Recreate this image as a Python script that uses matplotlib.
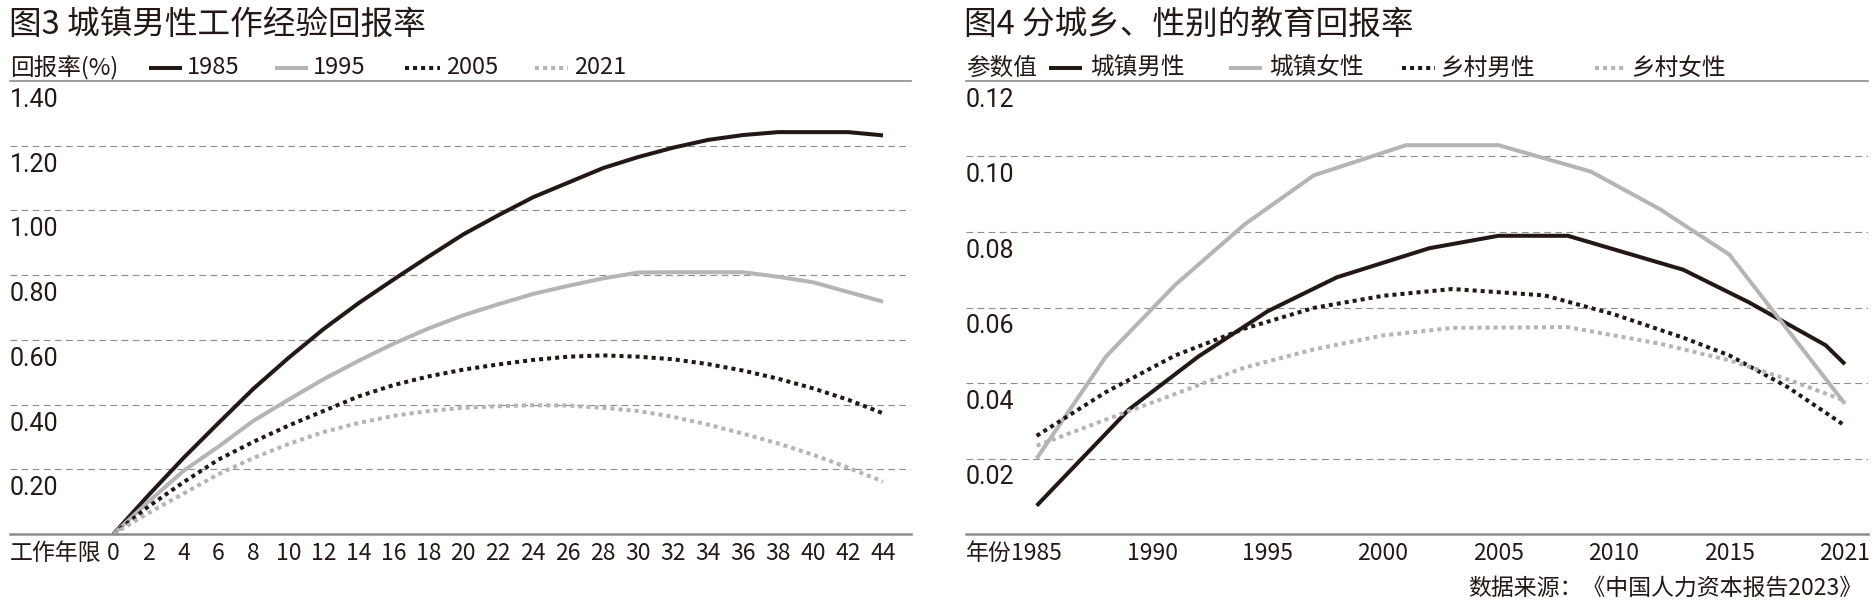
import numpy as np
import matplotlib
matplotlib.use("Agg")
import matplotlib.pyplot as plt
from matplotlib.lines import Line2D
from matplotlib.transforms import ScaledTranslation

plt.rcParams['font.family'] = ['Noto Sans CJK SC', 'DejaVu Sans']

# ---- 图3 data: return to work experience, urban men ----
exp_years = list(range(0, 45, 2))
ret_1985 = [0, 0.12, 0.235, 0.343, 0.449, 0.544, 0.633, 0.713, 0.786, 0.857, 0.926,
            0.985, 1.041, 1.086, 1.131, 1.165, 1.194, 1.218, 1.233, 1.242, 1.242, 1.242, 1.232]
ret_1995 = [0, 0.10, 0.195, 0.27, 0.35, 0.415, 0.478, 0.535, 0.588, 0.635, 0.676,
            0.71, 0.742, 0.767, 0.79, 0.808, 0.809, 0.809, 0.809, 0.795, 0.778, 0.748, 0.718]
ret_2005 = [0, 0.085, 0.16, 0.23, 0.285, 0.335, 0.38, 0.425, 0.46, 0.487, 0.508,
            0.524, 0.538, 0.548, 0.552, 0.548, 0.54, 0.525, 0.505, 0.48, 0.45, 0.415, 0.373]
ret_2021 = [0, 0.065, 0.125, 0.185, 0.235, 0.278, 0.315, 0.343, 0.365, 0.38, 0.39,
            0.395, 0.398, 0.397, 0.39, 0.38, 0.362, 0.338, 0.31, 0.28, 0.245, 0.205, 0.162]
left_yticks = [0.2, 0.4, 0.6, 0.8, 1.0, 1.2, 1.4]
left_ylabels = ['0.20', '0.40', '0.60', '0.80', '1.00', '1.20', '1.40']

# ---- 图4 data: return to education by urban/rural and gender ----
tick_years = [1985, 1990, 1995, 2000, 2005, 2010, 2015, 2021]
urban_m_yr = [1985, 1989, 1992, 1995, 1998, 2002, 2005, 2008, 2013, 2016, 2020, 2021]
urban_m = [0.0075, 0.033, 0.047, 0.059, 0.068, 0.0757, 0.079, 0.079, 0.070, 0.0614, 0.050, 0.045]
urban_f_yr = [1985, 1988, 1991, 1994, 1997, 2001, 2005, 2009, 2012, 2015, 2021]
urban_f = [0.020, 0.047, 0.066, 0.082, 0.095, 0.103, 0.103, 0.096, 0.086, 0.074, 0.0345]
rural_m_yr = [1985, 1988, 1991, 1994, 1997, 2000, 2003, 2007, 2010, 2013, 2015, 2018, 2021]
rural_m = [0.026, 0.0376, 0.0473, 0.0544, 0.0599, 0.0631, 0.0649, 0.0632, 0.0582, 0.052, 0.0473, 0.039, 0.0287]
rural_f_yr = [1985, 1988, 1991, 1994, 1997, 2000, 2003, 2008, 2012, 2015, 2018, 2021]
rural_f = [0.0234, 0.0303, 0.0371, 0.0441, 0.0489, 0.0526, 0.0546, 0.0548, 0.0504, 0.046, 0.041, 0.0353]
right_yticks = [0.02, 0.04, 0.06, 0.08, 0.10, 0.12]
right_ylabels = ['0.02', '0.04', '0.06', '0.08', '0.10', '0.12']

BLACK = '#231815'
GRAY = '#b5b5b5'
LINEGRAY = '#8c8c8c'
LW = 2.9

W, H = 1873, 608
fig = plt.figure(figsize=(W / 100, H / 100), dpi=100)

bottom = (H - 534) / H
height = (534 - 81) / H
ax1 = fig.add_axes([10 / W, bottom, 901 / W, height])
ax2 = fig.add_axes([966 / W, bottom, 902 / W, height])


# tick labels are evenly spaced on the right chart, the last step is 6 years
def fwd(x):
    x = np.asarray(x, dtype=float)
    return np.where(x <= 2015, (x - 1985) / 5.0, 6 + (x - 2015) / 6.0)


def inv(p):
    p = np.asarray(p, dtype=float)
    return np.where(p <= 6, 1985 + 5.0 * p, 2015 + 6.0 * (p - 6))


ax2.set_xscale('function', functions=(fwd, inv))


def style_axes(ax, yticks, ylabels, ymax):
    ax.set_ylim(0, ymax)
    ax.set_yticks(yticks[:-1])
    ax.grid(axis='y', color=LINEGRAY, lw=0.8, linestyle=(0, (6, 4)))
    ax.tick_params(axis='y', length=0, labelleft=False)
    ax.tick_params(axis='x', length=0, pad=6, labelsize=16.5, labelcolor=BLACK)
    for s in ['left', 'right']:
        ax.spines[s].set_visible(False)
    ax.spines['top'].set_color(LINEGRAY)
    ax.spines['top'].set_linewidth(1.2)
    ax.spines['bottom'].set_color(LINEGRAY)
    ax.spines['bottom'].set_linewidth(1.8)
    off = ScaledTranslation(0, -5 / 72, fig.dpi_scale_trans)
    for v, lab in zip(yticks, ylabels):
        ax.text(0, v, lab, transform=ax.get_yaxis_transform() + off,
                ha='left', va='top', fontsize=18, family='Roboto', color=BLACK)


# left chart
ax1.plot(exp_years, ret_1985, color=BLACK, lw=LW, solid_capstyle='butt')
ax1.plot(exp_years, ret_1995, color=GRAY, lw=LW, solid_capstyle='butt')
ax1.plot(exp_years, ret_2005, color=BLACK, lw=LW, ls=(0, (1, 1)))
ax1.plot(exp_years, ret_2021, color=GRAY, lw=LW, ls=(0, (1, 1)))
ax1.set_xlim(-5.92, 45.6)
ax1.set_xticks(exp_years)
ax1.set_xticklabels([str(v) for v in exp_years])
style_axes(ax1, left_yticks, left_ylabels, 1.4)
ax1.annotate('工作年限', xy=(0, 0), xycoords='axes fraction', xytext=(0, -6),
             textcoords='offset points', ha='left', va='top', fontsize=16.5, color=BLACK)

# right chart
ax2.plot(urban_m_yr, urban_m, color=BLACK, lw=LW, solid_capstyle='butt')
ax2.plot(urban_f_yr, urban_f, color=GRAY, lw=LW, solid_capstyle='butt')
ax2.plot(rural_m_yr, rural_m, color=BLACK, lw=LW, ls=(0, (1, 1)))
ax2.plot(rural_f_yr, rural_f, color=GRAY, lw=LW, ls=(0, (1, 1)))
ax2.set_xlim(1981.94, 2022.2)
ax2.set_xticks(tick_years)
ax2.set_xticklabels([str(v) for v in tick_years])
ax2.xaxis.set_minor_locator(matplotlib.ticker.NullLocator())
style_axes(ax2, right_yticks, right_ylabels, 0.12)
ax2.annotate('年份', xy=(0, 0), xycoords='axes fraction', xytext=(0, -6),
             textcoords='offset points', ha='left', va='top', fontsize=16.5, color=BLACK)


# titles, legends, source
def fx(x):
    return x / W


def fy(y):
    return 1 - y / H


fig.text(fx(9), fy(25), '图3 城镇男性工作经验回报率', fontsize=23.5, va='center', color=BLACK)
fig.text(fx(964), fy(25), '图4 分城乡、性别的教育回报率', fontsize=23.5, va='center', color=BLACK)

legend_y = 68
fig.text(fx(10), fy(legend_y), '回报率(%)', fontsize=17, va='center', color=BLACK)
fig.text(fx(966), fy(legend_y), '参数值', fontsize=17, va='center', color=BLACK)

left_legend = [('1985', BLACK, '-', 149, 182, 187),
               ('1995', GRAY, '-', 275, 308, 313),
               ('2005', BLACK, (0, (1, 1)), 405, 440, 446),
               ('2021', GRAY, (0, (1, 1)), 535, 568, 574)]
right_legend = [('城镇男性', BLACK, '-', 1049, 1082, 1090),
                ('城镇女性', GRAY, '-', 1229, 1262, 1269),
                ('乡村男性', BLACK, (0, (1, 1)), 1402, 1435, 1440),
                ('乡村女性', GRAY, (0, (1, 1)), 1595, 1626, 1631)]
for lab, c, ls, x0, x1, xt in left_legend + right_legend:
    fig.add_artist(Line2D([fx(x0), fx(x1)], [fy(legend_y), fy(legend_y)],
                          transform=fig.transFigure, color=c, lw=LW, ls=ls,
                          solid_capstyle='butt'))
    fig.text(fx(xt), fy(legend_y), lab, fontsize=17, va='center', color=BLACK)

fig.text(fx(1862), fy(588), '数据来源：《中国人力资本报告2023》', fontsize=16.5,
         ha='right', va='center', color=BLACK)

fig.savefig('out.png', dpi=100)
